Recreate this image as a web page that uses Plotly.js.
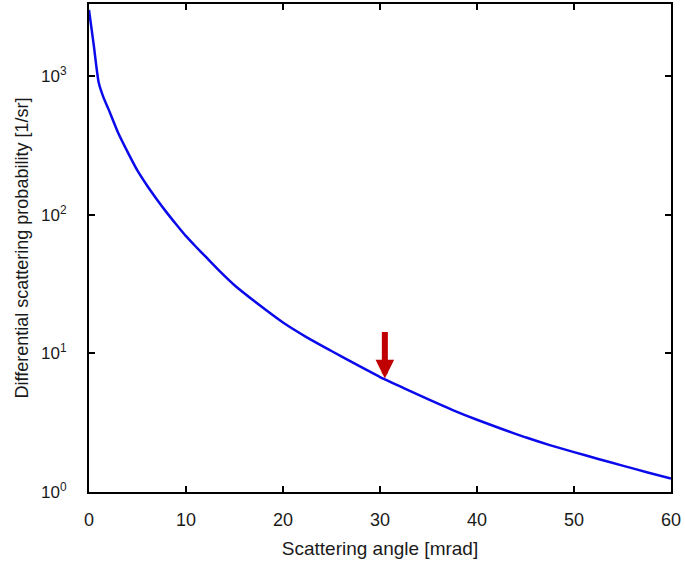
<!DOCTYPE html>
<html>
<head>
<meta charset="utf-8">
<script src="https://cdn.plot.ly/plotly-3.0.1.min.js"></script>
<style>
  html, body { margin: 0; padding: 0; background: #fff; }
  #plot { width: 685px; height: 574px; }
</style>
</head>
<body>
<div id="plot"></div>
<script>
// scattering angle in mrad
var angle = [0, 0.5, 1, 1.5, 2, 3, 4, 5, 6, 7, 8, 9, 10, 11, 12, 13.5, 15, 17.5, 20, 22.5, 25, 27.5, 30, 32.5, 35, 37.5, 40, 42.5, 45, 47.5, 50, 52.5, 55, 57.5, 60];
// differential scattering probability [1/sr]
var prob = [3000, 1650, 900, 700, 580, 390, 282, 208, 162, 129, 104, 85, 70, 59, 50, 39, 31, 22.5, 16.7, 13.0, 10.4, 8.35, 6.75, 5.6, 4.65, 3.9, 3.32, 2.86, 2.48, 2.18, 1.94, 1.73, 1.55, 1.39, 1.25];

var yTicks = [1, 10, 100, 1000];
var yTickText = ['10<sup>0</sup>', '10<sup>1</sup>', '10<sup>2</sup>', '10<sup>3</sup>'];
var xTicks = [0, 10, 20, 30, 40, 50, 60];

// marked angle
var markAngle = 30.5;
var markProb = 6.6;

var curve = {
  x: angle,
  y: prob,
  mode: 'lines',
  line: {color: '#0a0aeb', width: 2.5, shape: 'spline', smoothing: 0.6},
  hoverinfo: 'skip'
};

var fam = 'Liberation Sans, Arial, sans-serif';

var layout = {
  width: 685,
  height: 574,
  margin: {l: 89, r: 14, t: 4, b: 82},
  paper_bgcolor: '#fff',
  plot_bgcolor: '#fff',
  showlegend: false,
  font: {family: fam, size: 17, color: '#1a1a1a'},
  xaxis: {
    range: [0, 60],
    tickvals: xTicks,
    ticks: 'inside',
    ticklen: 6,
    tickwidth: 2,
    tickcolor: '#000',
    showline: true,
    linewidth: 2,
    linecolor: '#000',
    mirror: 'ticks',
    showgrid: false,
    zeroline: false,
    ticklabelstandoff: 10,
    tickfont: {family: fam, size: 18, color: '#1a1a1a'},
    title: {text: 'Scattering angle [mrad]', font: {family: fam, size: 19, color: '#1a1a1a'}, standoff: 13}
  },
  yaxis: {
    type: 'log',
    range: [0, 3.52],
    tickvals: yTicks,
    ticktext: yTickText,
    ticks: 'inside',
    ticklen: 6,
    tickwidth: 2,
    tickcolor: '#000',
    showline: true,
    linewidth: 2,
    linecolor: '#000',
    mirror: 'ticks',
    showgrid: false,
    zeroline: false,
    ticklabelstandoff: 17,
    tickfont: {family: fam, size: 17, color: '#1a1a1a'},
    title: {text: 'Differential scattering probability [1/sr]', font: {family: fam, size: 18, color: '#1a1a1a'}, standoff: 8}
  },
  annotations: [{
    x: markAngle,
    y: Math.log10(markProb),
    xref: 'x',
    yref: 'y',
    showarrow: true,
    arrowhead: 2,
    arrowsize: 0.62,
    arrowwidth: 6,
    arrowcolor: '#c00000',
    ax: 0,
    ay: -48,
    text: ''
  }]
};

Plotly.newPlot('plot', [curve], layout, {displayModeBar: false, staticPlot: true});
</script>
</body>
</html>
